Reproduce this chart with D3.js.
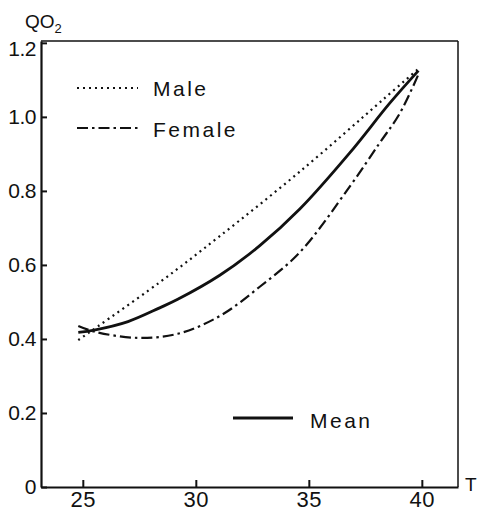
<!DOCTYPE html>
<html>
<head>
<meta charset="utf-8">
<script src="https://cdn.jsdelivr.net/npm/d3@7"></script>
<style>
  html, body { margin: 0; padding: 0; background: #fff; }
  svg { display: block; font-family: "Liberation Sans", Arial, sans-serif; }
</style>
</head>
<body>
<svg id="chart" width="477" height="513"></svg>
<script>
// ---- data ----
const maleT = [24.8, 28.4, 31.0, 34.6, 38.27, 39.85];
const maleV = [0.397, 0.553, 0.675, 0.852, 1.046, 1.13];

const femaleT = [24.8, 25.5, 27.4, 29.2, 31.06, 32.83, 34.6, 36.8, 38.14, 39.03, 39.85];
const femaleV = [0.435, 0.42, 0.403, 0.414, 0.462, 0.541, 0.634, 0.811, 0.93, 1.01, 1.115];

const meanT = [24.8, 25.5, 27.0, 28.4, 29.2, 31.06, 32.83, 34.6, 36.8, 38.58, 39.85];
const meanV = [0.418, 0.424, 0.447, 0.484, 0.507, 0.572, 0.652, 0.751, 0.902, 1.037, 1.125];

const xTicks = [25, 30, 35, 40];
const xTickLabels = ["25", "30", "35", "40"];
const yTicks = [0, 0.2, 0.4, 0.6, 0.8, 1.0, 1.2];
const yTickLabels = ["0", "0.2", "0.4", "0.6", "0.8", "1.0", "1.2"];

const seriesNames = ["Male", "Female", "Mean"];

// ---- scales ----
const svg = d3.select("#chart");
const x = d3.scaleLinear().domain([23.15, 41.6]).range([41, 458]);
const y = d3.scaleLinear().domain([0, 1.205]).range([487, 41]);

// ---- frame ----
const [x0, x1] = x.range();
const [yb, yt] = y.range();
svg.append("line").attr("x1", x0).attr("x2", x1).attr("y1", yt).attr("y2", yt)
  .attr("stroke", "#111").attr("stroke-width", 1.5);
svg.append("line").attr("x1", x1).attr("x2", x1).attr("y1", yt).attr("y2", yb)
  .attr("stroke", "#111").attr("stroke-width", 1.5);

// ---- axes ----
const xAxis = d3.axisBottom(x)
  .tickValues(xTicks)
  .tickFormat((d, i) => xTickLabels[i])
  .tickSizeInner(-7).tickSizeOuter(0).tickPadding(4);
const gx = svg.append("g").attr("transform", `translate(0,${yb})`).call(xAxis);
gx.select(".domain").attr("stroke", "#111").attr("stroke-width", 2.2);
gx.selectAll(".tick line").attr("stroke", "#111").attr("stroke-width", 2);
gx.selectAll(".tick text").attr("font-size", 22).attr("fill", "#111")
  .attr("letter-spacing", 0.5)
  .attr("font-family", "Liberation Sans, Arial, sans-serif");

const yAxis = d3.axisLeft(y)
  .tickValues(yTicks)
  .tickFormat((d, i) => yTickLabels[i])
  .tickSizeInner(-6).tickSizeOuter(0).tickPadding(5);
const gy = svg.append("g").attr("transform", `translate(${x0},0)`).call(yAxis);
gy.select(".domain").attr("stroke", "#111").attr("stroke-width", 2.2);
gy.selectAll(".tick line").attr("stroke", "#111").attr("stroke-width", 2);
gy.selectAll(".tick text").attr("font-size", 21).attr("fill", "#111")
  .attr("letter-spacing", -0.5)
  .attr("font-family", "Liberation Sans, Arial, sans-serif");
gy.selectAll(".tick text").filter(d => d === 1.2).attr("dy", "0.62em");

// ---- axis titles ----
const qo = svg.append("text").attr("x", 25).attr("y", 28)
  .attr("font-size", 19).attr("fill", "#111");
qo.append("tspan").text("QO");
qo.append("tspan").attr("font-size", 13).attr("dy", 5).text("2");

svg.append("text").attr("x", 465).attr("y", 491)
  .attr("font-size", 19).attr("fill", "#111").text("T");

// ---- curves ----
const line = d3.line()
  .x(d => x(d[0])).y(d => y(d[1]))
  .curve(d3.curveCatmullRom.alpha(0.5));

const styles = {
  Male:   { dash: "2,4", width: 2.2 },
  Female: { dash: "11,4,2.5,4", width: 2.2 },
  Mean:   { dash: null, width: 2.8 }
};

const seriesData = {
  Male: d3.zip(maleT, maleV),
  Female: d3.zip(femaleT, femaleV),
  Mean: d3.zip(meanT, meanV)
};

seriesNames.forEach(name => {
  svg.append("path")
    .datum(seriesData[name])
    .attr("d", line)
    .attr("fill", "none")
    .attr("stroke", "#111")
    .attr("stroke-width", styles[name].width)
    .attr("stroke-dasharray", styles[name].dash);
});

// ---- legend ----
const legendPos = {
  Male:   { x1: 77, x2: 138, ly: 88, tx: 153, ty: 96 },
  Female: { x1: 77, x2: 138, ly: 128, tx: 153, ty: 137 },
  Mean:   { x1: 233, x2: 293, ly: 418, tx: 310, ty: 428 }
};
seriesNames.forEach(name => {
  const p = legendPos[name];
  svg.append("line")
    .attr("x1", p.x1).attr("x2", p.x2).attr("y1", p.ly).attr("y2", p.ly)
    .attr("stroke", "#111")
    .attr("stroke-width", styles[name].width)
    .attr("stroke-dasharray", styles[name].dash);
  svg.append("text")
    .attr("x", p.tx).attr("y", p.ty)
    .attr("font-size", 21).attr("letter-spacing", 2.5)
    .attr("fill", "#111").text(name);
});
</script>
</body>
</html>
